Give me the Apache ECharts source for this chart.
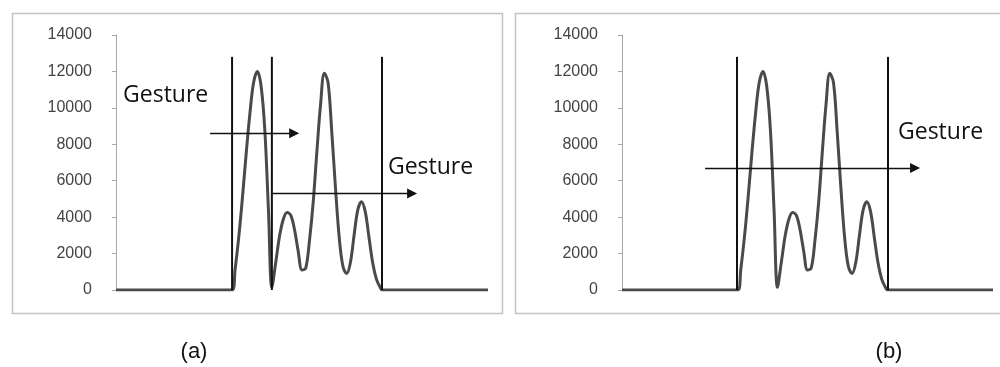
<!DOCTYPE html>
<html>
<head>
<meta charset="utf-8">
<script src="https://cdn.jsdelivr.net/npm/echarts@6/dist/echarts.min.js"></script>
<style>
html,body{margin:0;padding:0;background:#fff;}
#chart{width:1000px;height:367px;}
</style>
</head>
<body>
<div id="chart"></div>
<script>
// ---- data ----
const sampleX = [0, 31.2, 32, 33, 34, 35, 36, 37, 38, 39, 40, 41, 41.9, 43, 44, 45, 46, 47, 48, 49, 50, 51, 52, 53, 54, 55, 56, 57, 58, 59, 60, 61, 62, 63, 64, 65, 66, 67, 68, 69, 70, 71, 71.6, 100];
const signalY = [0, 0, 1100, 2900, 5100, 7500, 9700, 11400, 12000, 11200, 8800, 4300, 150, 1600, 3000, 3900, 4250, 4100, 3300, 2100, 1100, 1200, 2700, 4800, 7600, 10200, 11900, 11400, 8700, 5600, 2900, 1300, 900, 1500, 3000, 4400, 4850, 4300, 2900, 1500, 600, 150, 0, 0];
const yTicks = [0, 2000, 4000, 6000, 8000, 10000, 12000, 14000];
const markersA = [31.2, 41.9, 71.5];
const markersB = [31.0, 71.7];
const markerTop = 12800;
const arrowsA = [[25.3, 47.9, 8600], [41.9, 79.6, 5300]];
const arrowsB = [[22.4, 79.0, 6700]];
const labelsA = [[1.9, 10700, 'Gesture'], [73.1, 6750, 'Gesture']];
const labelsB = [[74.4, 8670, 'Gesture']];
const captions = ['(a)', '(b)'];

// ---- build ----
const signal = sampleX.map((x, i) => [x, signalY[i]]);
const yMin = yTicks[0], yMax = yTicks[yTicks.length - 1], yStep = yTicks[1] - yTicks[0];

function yAxisFor(gridIndex) {
  return {
    type: 'value', gridIndex, min: yMin, max: yMax, interval: yStep,
    axisLine: {show: true, lineStyle: {color: '#a8a8a8', width: 1}},
    axisTick: {show: true, length: 4, lineStyle: {color: '#a8a8a8'}},
    axisLabel: {color: '#444', fontSize: 16, fontFamily: 'Liberation Sans, Arial, sans-serif', margin: 24,
      formatter: v => String(v)},
    splitLine: {show: false}
  };
}
function xAxisFor(gridIndex) {
  return {type: 'value', gridIndex, min: 0, max: 100, show: false};
}
function panelSeries(idx, markers, arrows, labels) {
  const out = [];
  out.push({
    type: 'line', xAxisIndex: idx, yAxisIndex: idx, data: signal,
    smooth: 0.35, symbol: 'none', silent: true,
    lineStyle: {color: '#4a4a4a', width: 3},
    z: 3,
    markLine: {
      silent: true, symbol: ['none', 'triangle'], symbolSize: 10, symbolRotate: -90,
      label: {show: false},
      lineStyle: {color: '#111', width: 1.3, type: 'solid'},
      itemStyle: {color: '#111'},
      data: arrows.map(a => [{coord: [a[0], a[2]]}, {coord: [a[1], a[2]]}])
    }
  });
  markers.forEach(m => {
    out.push({
      type: 'line', xAxisIndex: idx, yAxisIndex: idx,
      data: [[m, 0], [m, markerTop]], symbol: 'none', silent: true,
      lineStyle: {color: '#111', width: 2}, z: 4
    });
  });
  out.push({
    type: 'scatter', xAxisIndex: idx, yAxisIndex: idx, symbolSize: 0, silent: true,
    data: labels.map(l => ({value: [l[0], l[1]], label: {formatter: l[2]}})),
    label: {show: true, position: 'right', distance: 0, color: '#111', fontSize: 23, fontFamily: 'Open Sans, sans-serif'},
    itemStyle: {color: '#111', opacity: 1},
    z: 5
  });
  return out;
}

const chart = echarts.init(document.getElementById('chart'), null, {renderer: 'canvas'});
chart.setOption({
  animation: false,
  backgroundColor: '#fff',
  grid: [
    {left: 116, top: 35, width: 372, height: 255},
    {left: 622, top: 35, width: 371, height: 255}
  ],
  xAxis: [xAxisFor(0), xAxisFor(1)],
  yAxis: [yAxisFor(0), yAxisFor(1)],
  graphic: [
    {type: 'rect', shape: {x: 12.5, y: 13.5, width: 490, height: 300}, style: {fill: 'none', stroke: '#c4c4c4', lineWidth: 1.5}, silent: true, z: -1},
    {type: 'rect', shape: {x: 515.5, y: 13.5, width: 500, height: 300}, style: {fill: 'none', stroke: '#c4c4c4', lineWidth: 1.5}, silent: true, z: -1},
    {type: 'text', x: 194, y: 352, style: {text: captions[0], fill: '#111', font: '22px Liberation Sans, Arial, sans-serif', textAlign: 'center', textVerticalAlign: 'middle'}},
    {type: 'text', x: 889, y: 352, style: {text: captions[1], fill: '#111', font: '22px Liberation Sans, Arial, sans-serif', textAlign: 'center', textVerticalAlign: 'middle'}}
  ],
  series: [].concat(panelSeries(0, markersA, arrowsA, labelsA), panelSeries(1, markersB, arrowsB, labelsB))
});
</script>
</body>
</html>
